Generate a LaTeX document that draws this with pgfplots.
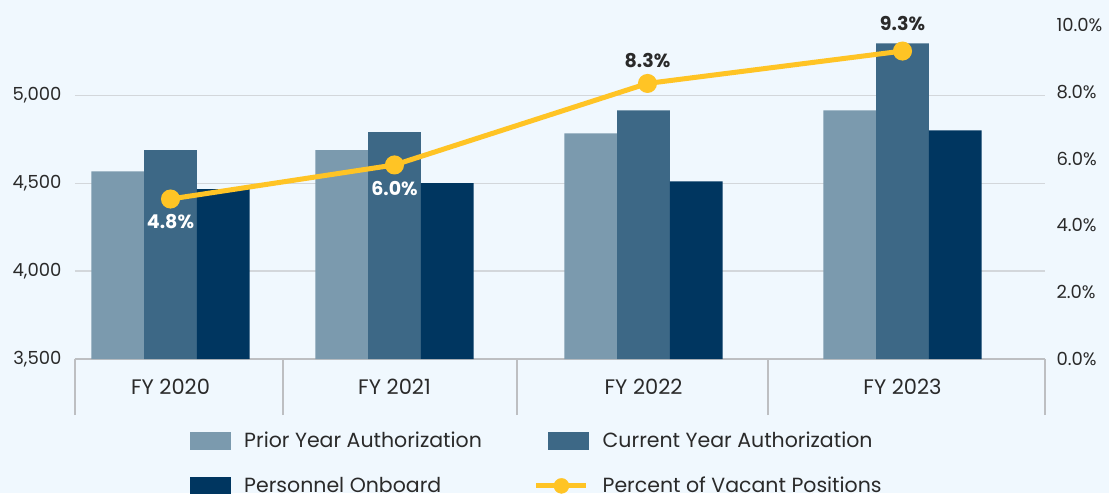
\documentclass[border=0pt]{standalone}
\usepackage{pgfplots}
\pgfplotsset{compat=1.18}
\usepackage{fontspec}
\setmainfont{Poppins}
\definecolor{bg}{HTML}{F0F8FE}
\definecolor{priorc}{HTML}{7B9AAE}
\definecolor{currentc}{HTML}{3D6886}
\definecolor{onboardc}{HTML}{003660}
\definecolor{yellowc}{HTML}{FFC425}
\definecolor{gridgray}{HTML}{D3D7DB}
\definecolor{axisgray}{HTML}{BDBFC2}
\definecolor{textc}{HTML}{2A2A2A}
\pgfplotsset{/pgf/number format/assume math mode=true}
\begin{document}
\begin{tikzpicture}
\useasboundingbox (0,0) rectangle (1109pt,493pt);
\clip (0,0) rectangle (1109pt,493pt);
\fill[bg] (0,0) rectangle (1109pt,493pt);
\begin{axis}[
  at={(75pt,134pt)}, anchor=south west,
  width=970pt, height=334pt, scale only axis,
  xmin=75, xmax=1045, ymin=3500, ymax=5400,
  axis x line*=bottom, axis y line*=left,
  x axis line style={draw=axisgray, line width=1.3pt, -},
  y axis line style={draw=none},
  xtick={170.5,394.5,643.5,902.5},
  xticklabels={FY 2020, FY 2021, FY 2022, FY 2023},
  major tick length=0pt,
  xtick style={draw=axisgray, line width=1.3pt},
  extra x ticks={75,283,517,768,1045},
  extra x tick labels={},
  extra x tick style={major tick length=56pt, tick align=outside},
  ytick={3500,4000,4500,5000},
  ytick style={draw=none},
  ymajorgrids, grid style={draw=gridgray, line width=1.3pt},
  xticklabel style={anchor=center, yshift=-28pt, font=\fontsize{21}{24}\selectfont, text=textc},
  yticklabel style={font=\fontsize{18}{20}\selectfont, text=textc, xshift=-10pt, /pgf/number format/.cd, 1000 sep={,}},
  legend columns=2,
  legend cell align=left,
  legend style={draw=none, fill=none, at={(axis description cs:0.1186,-0.2126)}, anchor=north west,
    inner sep=0pt, font=\fontsize{20.5}{23}\selectfont, text=textc, row sep=24pt,
    /tikz/every even column/.append style={column sep=50pt}},
]
\addplot[ybar, bar width=52.7, bar shift=-52.9, fill=priorc, draw=none,
  legend image code/.code={\fill[priorc] (0pt,-9pt) rectangle (41pt,9pt); \path (52pt,0pt);}]
  coordinates {(170.5,4568) (394.5,4688) (643.5,4784) (902.5,4915)};
\addlegendentry{Prior Year Authorization}
\addplot[ybar, bar width=52.7, bar shift=0, fill=currentc, draw=none,
  legend image code/.code={\fill[currentc] (0pt,-9pt) rectangle (41pt,9pt); \path (52pt,0pt);}]
  coordinates {(170.5,4688) (394.5,4790) (643.5,4915) (902.5,5295)};
\addlegendentry{Current Year Authorization}
\addplot[ybar, bar width=52.7, bar shift=52.7, fill=onboardc, draw=none,
  legend image code/.code={\fill[onboardc] (0pt,-9pt) rectangle (41pt,9pt); \path (52pt,0pt);}]
  coordinates {(170.5,4466) (394.5,4500) (643.5,4511) (902.5,4801)};
\addlegendentry{Personnel Onboard}
\addlegendimage{legend image code/.code={\draw[yellowc, line width=5pt] (-12pt,0pt)--(38pt,0pt); \fill[yellowc] (13pt,0pt) circle (7.5pt); \path (52pt,0pt);}}
\addlegendentry{Percent of Vacant Positions}
\end{axis}
\begin{axis}[
  at={(75pt,134pt)}, anchor=south west,
  width=970pt, height=334pt, scale only axis,
  xmin=75, xmax=1045, ymin=0, ymax=10,
  hide x axis,
  axis y line*=right,
  y axis line style={draw=none},
  ytick={0,2,4,6,8,10},
  ytick style={draw=none},
  major tick length=0pt,
  yticklabel={\pgfmathprintnumber[fixed,fixed zerofill,precision=1]{\tick}\%},
  yticklabel style={font=\fontsize{18}{20}\selectfont, text=textc, xshift=8pt},
  clip=false,
]
\addplot[yellowc, line width=5pt, mark=*, mark size=7pt,
  mark options={fill=yellowc, draw=none}]
  coordinates {(170.5,4.79) (394.5,5.81) (647.5,8.25) (902.5,9.22)};
\node[text=white, font=\bfseries\fontsize{19}{22}\selectfont, yshift=-23pt] at (axis cs:170.5,4.79) {4.8\%};
\node[text=white, font=\bfseries\fontsize{19}{22}\selectfont, yshift=-24pt] at (axis cs:394.5,5.81) {6.0\%};
\node[text=textc, font=\bfseries\fontsize{19}{22}\selectfont, yshift=23pt] at (axis cs:647.5,8.25) {8.3\%};
\node[text=textc, font=\bfseries\fontsize{19}{22}\selectfont, yshift=28pt] at (axis cs:902.5,9.22) {9.3\%};
\end{axis}
\end{tikzpicture}
\end{document}
